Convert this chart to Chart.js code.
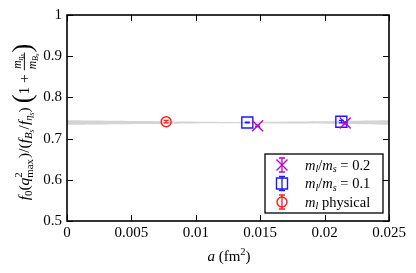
<!DOCTYPE html>
<html><head><meta charset="utf-8">
<script src="https://cdn.jsdelivr.net/npm/chart.js@4.4.1/dist/chart.umd.min.js"></script>
<style>html,body{margin:0;padding:0;background:#fff}</style>
</head><body>
<canvas id="c" width="416" height="273" style="width:416px;height:273px;display:block"></canvas>
<script>
// ---- data ----
const xTicks = [0, 0.005, 0.01, 0.015, 0.02, 0.025];
const yTicks = [0.5, 0.6, 0.7, 0.8, 0.9, 1];
const aPhys = [0.0077];
const valPhys = [0.741];
const errPhys = [0.003];
const a01 = [0.0140, 0.0213];
const val01 = [0.739, 0.741];
const err01 = [0.001, 0.003];
const a02 = [0.0148, 0.0216];
const val02 = [0.731, 0.738];
const err02 = [0.002, 0.003];
const bandX = [0, 0.006, 0.012, 0.018, 0.025];
const bandLo = [0.7335, 0.7355, 0.7375, 0.7365, 0.7335];
const bandHi = [0.7445, 0.7425, 0.7405, 0.7415, 0.7445];

const FONT = "'Liberation Serif', 'DejaVu Serif', serif";
const MAG = '#c000c8', BLUE = '#1a1aff', RED = '#ff1a1a';

function font(sz, it) { return (it ? 'italic ' : '') + sz + 'px ' + FONT; }
function segW(ctx, s, F) {
  if (s.frac) return Math.max(measure(ctx, s.num, F * 0.75), measure(ctx, s.den, F * 0.75)) + 2;
  if (s.stack) { ctx.font = font(F * 0.7, s.it); return Math.max(ctx.measureText(s.sup).width, ctx.measureText(s.sub).width) + 1; }
  ctx.font = font(F * (s.s || 1), s.it); return ctx.measureText(s.t).width + (s.pad || 0);
}
function measure(ctx, segs, F) { let w = 0; for (const s of segs) w += segW(ctx, s, F); return w; }
function drawSegs(ctx, segs, x, y, F) {
  for (const s of segs) {
    const w = segW(ctx, s, F);
    if (s.frac) {
      const f2 = F * 0.75;
      const nw = measure(ctx, s.num, f2), dw = measure(ctx, s.den, f2);
      drawSegs(ctx, s.num, x + (w - nw) / 2, y - F * 0.52, f2);
      drawSegs(ctx, s.den, x + (w - dw) / 2, y + F * 0.45, f2);
      ctx.fillRect(x, y - F * 0.33, w, Math.max(0.8, F * 0.06));
    } else if (s.stack) {
      ctx.font = font(F * 0.7, s.it);
      ctx.fillText(s.sup, x, y - F * 0.42);
      ctx.fillText(s.sub, x, y + F * 0.25);
    } else {
      ctx.font = font(F * (s.s || 1), s.it);
      ctx.fillText(s.t, x, y + (s.dy || 0) * F);
    }
    x += w;
  }
}

const yTitle = [
  {t:'f', it:1}, {t:'0', s:0.7, dy:0.2}, {t:'('}, {t:'q', it:1}, {stack:1, sup:'2', sub:'max'},
  {t:')/('}, {t:'f', it:1}, {t:'B', it:1, s:0.7, dy:0.2}, {t:'s', it:1, s:0.5, dy:0.3},
  {t:'/'}, {t:'f', it:1}, {t:'η', it:1, s:0.7, dy:0.2}, {t:'s', it:1, s:0.5, dy:0.3}, {t:') '},
  {t:'(', s:1.7, dy:0.14}, {t:'1 + '},
  {frac:1, num:[{t:'m', it:1}, {t:'η', it:1, s:0.7, dy:0.2}, {t:'s', it:1, s:0.55, dy:0.3}],
           den:[{t:'m', it:1}, {t:'B', it:1, s:0.7, dy:0.2}, {t:'s', it:1, s:0.55, dy:0.3}]},
  {t:')', s:1.7, dy:0.14}
];
const xTitle = [{t:'a', it:1}, {t:' (fm'}, {t:'2', s:0.7, dy:-0.42}, {t:')'}];
const legendRows = [
  {segs:[{t:'m', it:1}, {t:'l', it:1, s:0.7, dy:0.2}, {t:'/'}, {t:'m', it:1}, {t:'s', it:1, s:0.7, dy:0.2}, {t:' = 0.2'}], kind:'x', color:MAG},
  {segs:[{t:'m', it:1}, {t:'l', it:1, s:0.7, dy:0.2}, {t:'/'}, {t:'m', it:1}, {t:'s', it:1, s:0.7, dy:0.2}, {t:' = 0.1'}], kind:'sq', color:BLUE},
  {segs:[{t:'m', it:1}, {t:'l', it:1, s:0.7, dy:0.2}, {t:' physical'}], kind:'c', color:RED}
];

function marker(ctx, kind, color, x, y) {
  ctx.save(); ctx.strokeStyle = color; ctx.lineWidth = 1.4;
  ctx.beginPath();
  if (kind === 'x') { const r = 5.5; ctx.moveTo(x - r, y - r); ctx.lineTo(x + r, y + r); ctx.moveTo(x + r, y - r); ctx.lineTo(x - r, y + r); }
  else if (kind === 'sq') { ctx.rect(x - 5.5, y - 5.5, 11, 11); }
  else { ctx.arc(x, y, 5, 0, Math.PI * 2); }
  ctx.stroke(); ctx.restore();
}

const errorBars = {
  id: 'errorBars',
  afterDatasetsDraw(chart) {
    const ctx = chart.ctx, ys = chart.scales.y;
    chart.data.datasets.forEach((ds, i) => {
      if (!ds.err) return;
      const meta = chart.getDatasetMeta(i);
      meta.data.forEach((pt, j) => {
        const v = ds.data[j].y, e = ds.err[j];
        const y1 = ys.getPixelForValue(v - e), y2 = ys.getPixelForValue(v + e);
        ctx.save(); ctx.strokeStyle = ds.borderColor; ctx.lineWidth = 1.2;
        ctx.beginPath();
        ctx.moveTo(pt.x, y1); ctx.lineTo(pt.x, y2);
        ctx.moveTo(pt.x - 2.5, y1); ctx.lineTo(pt.x + 2.5, y1);
        ctx.moveTo(pt.x - 2.5, y2); ctx.lineTo(pt.x + 2.5, y2);
        ctx.stroke(); ctx.restore();
      });
    });
  }
};

const frame = {
  id: 'frame',
  afterDraw(chart) {
    const ctx = chart.ctx, a = chart.chartArea, xs = chart.scales.x, ys = chart.scales.y;
    ctx.save();
    ctx.strokeStyle = '#000'; ctx.lineWidth = 1;
    ctx.beginPath();
    xTicks.forEach(t => { const px = Math.round(xs.getPixelForValue(t)) + 0.5;
      ctx.moveTo(px, a.bottom); ctx.lineTo(px, a.bottom - 6); ctx.moveTo(px, a.top); ctx.lineTo(px, a.top + 6); });
    yTicks.forEach(t => { const py = Math.round(ys.getPixelForValue(t)) + 0.5;
      ctx.moveTo(a.left, py); ctx.lineTo(a.left + 6, py); ctx.moveTo(a.right, py); ctx.lineTo(a.right - 6, py); });
    ctx.stroke();
    ctx.lineWidth = 1.6;
    ctx.strokeRect(a.left, a.top, a.right - a.left, a.bottom - a.top);
    // legend
    const lx = 265, ly = 154, lw = 118, lh = 59;
    ctx.fillStyle = '#fff'; ctx.fillRect(lx, ly, lw, lh);
    ctx.lineWidth = 1.3; ctx.strokeStyle = '#000'; ctx.strokeRect(lx, ly, lw, lh);
    const rowsY = [165, 183.5, 202];
    legendRows.forEach((r, i) => {
      const y = rowsY[i], x = 282;
      marker(ctx, r.kind, r.color, x, y);
      ctx.save(); ctx.strokeStyle = r.color; ctx.lineWidth = 1.3; ctx.beginPath();
      ctx.moveTo(x, y - 7); ctx.lineTo(x, y + 7);
      ctx.moveTo(x - 3, y - 7); ctx.lineTo(x + 3, y - 7);
      ctx.moveTo(x - 3, y + 7); ctx.lineTo(x + 3, y + 7);
      ctx.stroke(); ctx.restore();
      ctx.fillStyle = '#000'; ctx.textBaseline = 'alphabetic'; ctx.textAlign = 'left';
      drawSegs(ctx, r.segs, 305, y + 4.5, 14.5);
    });
    // axis titles
    ctx.fillStyle = '#000'; ctx.textAlign = 'left'; ctx.textBaseline = 'alphabetic';
    const xw = measure(ctx, xTitle, 15);
    drawSegs(ctx, xTitle, 229 - xw / 2, 261, 15);
    const F = 15.5;
    const yw = measure(ctx, yTitle, F);
    ctx.translate(29, 122); ctx.rotate(-Math.PI / 2);
    drawSegs(ctx, yTitle, -yw / 2, 0, F);
    ctx.restore();
  }
};

const tickFont = { family: FONT, size: 15 };
new Chart(document.getElementById('c'), {
  type: 'scatter',
  data: {
    datasets: [
      { label: 'm_l/m_s = 0.2', data: a02.map((a, i) => ({x: a, y: val02[i]})), err: err02,
        pointStyle: 'crossRot', pointRadius: 7.8, borderColor: MAG, backgroundColor: MAG, pointBorderWidth: 1.4, order: 1 },
      { label: 'm_l/m_s = 0.1', data: a01.map((a, i) => ({x: a, y: val01[i]})), err: err01,
        pointStyle: 'rect', pointRadius: 7.8, borderColor: BLUE, backgroundColor: 'rgba(0,0,0,0)', pointBorderWidth: 1.4, order: 2 },
      { label: 'm_l physical', data: aPhys.map((a, i) => ({x: a, y: valPhys[i]})), err: errPhys,
        pointStyle: 'circle', pointRadius: 5, borderColor: RED, backgroundColor: 'rgba(0,0,0,0)', pointBorderWidth: 1.4, order: 3 },
      { type: 'line', label: 'bandLo', data: bandX.map((a, i) => ({x: a, y: bandLo[i]})), borderWidth: 0, pointRadius: 0, fill: false, tension: 0.4, order: 10 },
      { type: 'line', label: 'bandHi', data: bandX.map((a, i) => ({x: a, y: bandHi[i]})), borderWidth: 0, pointRadius: 0, fill: '-1', backgroundColor: '#d4d4d4', tension: 0.4, order: 10 }
    ]
  },
  options: {
    responsive: false, animation: false, devicePixelRatio: 1,
    layout: { padding: { top: 15, right: 27, left: 0, bottom: 0 } },
    plugins: { legend: { display: false }, tooltip: { enabled: false } },
    scales: {
      x: { type: 'linear', min: 0, max: 0.025,
        afterBuildTicks: s => { s.ticks = xTicks.map(v => ({value: v})); },
        afterFit: s => { s.height = 52; },
        ticks: { font: tickFont, color: '#000', padding: 3, maxRotation: 0, callback: v => String(parseFloat(v.toFixed(4))) },
        grid: { display: false, drawTicks: false, tickLength: 0 }, border: { display: false } },
      y: { min: 0.5, max: 1,
        afterBuildTicks: s => { s.ticks = yTicks.map(v => ({value: v})); },
        afterFit: s => { s.width = 67; },
        ticks: { font: tickFont, color: '#000', padding: 5, callback: v => String(parseFloat(v.toFixed(2))) },
        grid: { display: false, drawTicks: false, tickLength: 0 }, border: { display: false } }
    }
  },
  plugins: [errorBars, frame]
});
</script>
</body></html>
